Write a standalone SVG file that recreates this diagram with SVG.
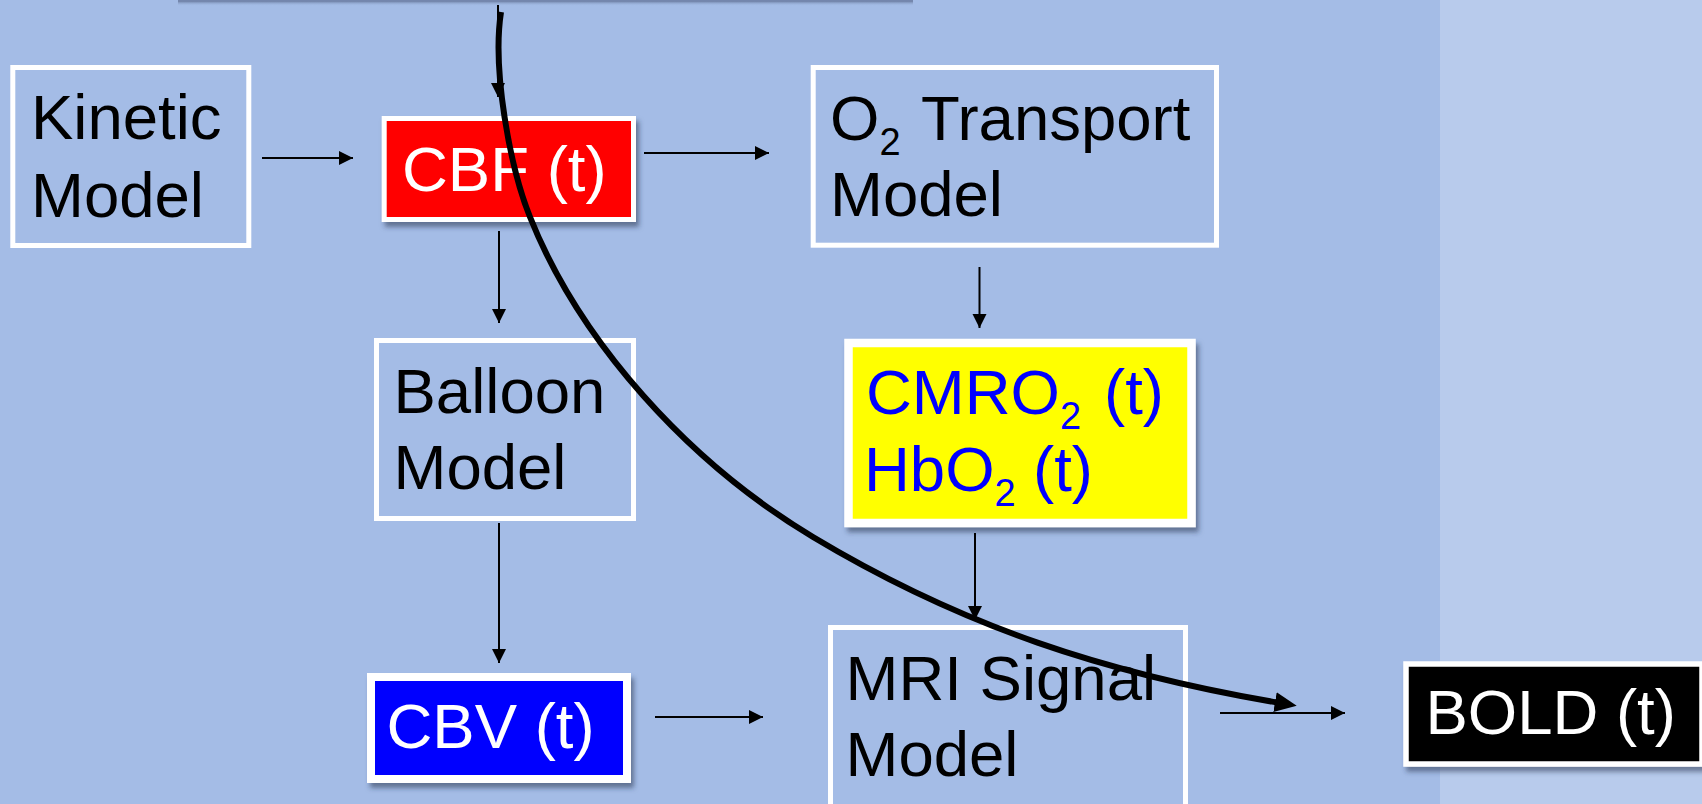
<svg xmlns="http://www.w3.org/2000/svg" width="1702" height="804" viewBox="0 0 1702 804">
<style>
.t{font-family:"Liberation Sans",Arial,sans-serif;font-size:63.5px}
.plain{fill:none;stroke:#fff;stroke-width:5}
.thin{stroke:#000;stroke-width:2;fill:none;marker-end:url(#ah)}
</style>
<defs>
<filter id="sh" x="-10%" y="-10%" width="130%" height="140%">
<feDropShadow dx="3" dy="5" stdDeviation="2.5" flood-color="#2a3550" flood-opacity="0.55"/>
</filter>
<linearGradient id="topsh" x1="0" y1="0" x2="0" y2="1">
<stop offset="0" stop-color="#6a7ba0"/>
<stop offset="1" stop-color="#a4bce6" stop-opacity="0"/>
</linearGradient>
<marker id="ah" markerUnits="userSpaceOnUse" markerWidth="16" markerHeight="16" refX="14" refY="7" orient="auto">
<path d="M0,0 L14,7 L0,14 Z" fill="#000"/>
</marker>
<marker id="big" markerUnits="userSpaceOnUse" markerWidth="24" markerHeight="22" refX="2" refY="10" orient="auto">
<path d="M0,0 L22,10 L0,20 Z" fill="#000"/>
</marker>
</defs>
<rect x="0" y="0" width="1440" height="804" fill="#a4bce6"/>
<rect x="1440" y="0" width="262" height="804" fill="#b8cbec"/>
<g id="top-box">
<rect x="178" y="-20" width="735" height="21" fill="#7486ad"/>
<rect x="178" y="1" width="735" height="5" fill="url(#topsh)"/>
</g>
<g id="kinetic">
<rect class="plain" x="12.8" y="67.5" width="236" height="178"/>
<text class="t" x="31" y="139">Kinetic</text>
<text class="t" x="31" y="217">Model</text>
</g>
<g id="cbf">
<rect x="384.2" y="118.5" width="249.3" height="101" fill="#ff0000" stroke="#fff" stroke-width="5" filter="url(#sh)"/>
<text class="t" x="402" y="191" fill="#fff">CBF (t)</text>
</g>
<g id="o2">
<rect class="plain" x="813.2" y="67.5" width="403.3" height="177.7"/>
<text class="t" x="830" y="140">O<tspan font-size="38" y="155">2</tspan><tspan x="921" y="140">Transport</tspan></text>
<text class="t" x="830" y="216">Model</text>
</g>
<g id="balloon">
<rect class="plain" x="376.5" y="340.5" width="257" height="178"/>
<text class="t" x="393.5" y="413">Balloon</text>
<text class="t" x="393.5" y="489">Model</text>
</g>
<g id="cmro2">
<rect x="848.5" y="343" width="343" height="180" fill="#ffff00" stroke="#fff" stroke-width="8.5" filter="url(#sh)"/>
<text class="t" x="866" y="414" fill="#0000ff">CMRO<tspan font-size="38" y="429">2</tspan><tspan x="1104" y="414">(t)</tspan></text>
<text class="t" x="864" y="491" fill="#0000ff">HbO<tspan font-size="38" y="506">2</tspan><tspan x="1033" y="491">(t)</tspan></text>
</g>
<g id="cbv">
<rect x="371" y="677" width="256" height="102" fill="#0000ff" stroke="#fff" stroke-width="8" filter="url(#sh)"/>
<text class="t" x="386.5" y="748" fill="#fff">CBV (t)</text>
</g>
<g id="mri">
<rect class="plain" x="830.5" y="627.5" width="355" height="200"/>
<text class="t" x="845.5" y="700">MRI Signal</text>
<text class="t" x="845.5" y="776">Model</text>
</g>
<g id="bold">
<rect x="1406" y="664" width="296" height="100" fill="#000" stroke="#fff" stroke-width="5.5" filter="url(#sh)"/>
<text class="t" x="1425.4" y="734" fill="#fff">BOLD (t)</text>
</g>
<g id="connectors">
<line class="thin" x1="498" y1="5" x2="498" y2="97"/>
<line class="thin" x1="262" y1="158" x2="353" y2="158"/>
<line class="thin" x1="644" y1="153" x2="769" y2="153"/>
<line class="thin" x1="499" y1="231" x2="499" y2="323"/>
<line class="thin" x1="979.5" y1="267" x2="979.5" y2="328"/>
<line class="thin" x1="499" y1="523" x2="499" y2="663"/>
<line class="thin" x1="975" y1="533" x2="975" y2="620"/>
<line class="thin" x1="655" y1="717" x2="763" y2="717"/>
<line class="thin" x1="1220" y1="713" x2="1345" y2="713"/>
<path d="M501,12 C492,70 510,167 530,217 C580,342 688,462 813,537 C963,627 1107,673.5 1277,702.5" fill="none" stroke="#000" stroke-width="6" marker-end="url(#big)"/>
</g>
</svg>
